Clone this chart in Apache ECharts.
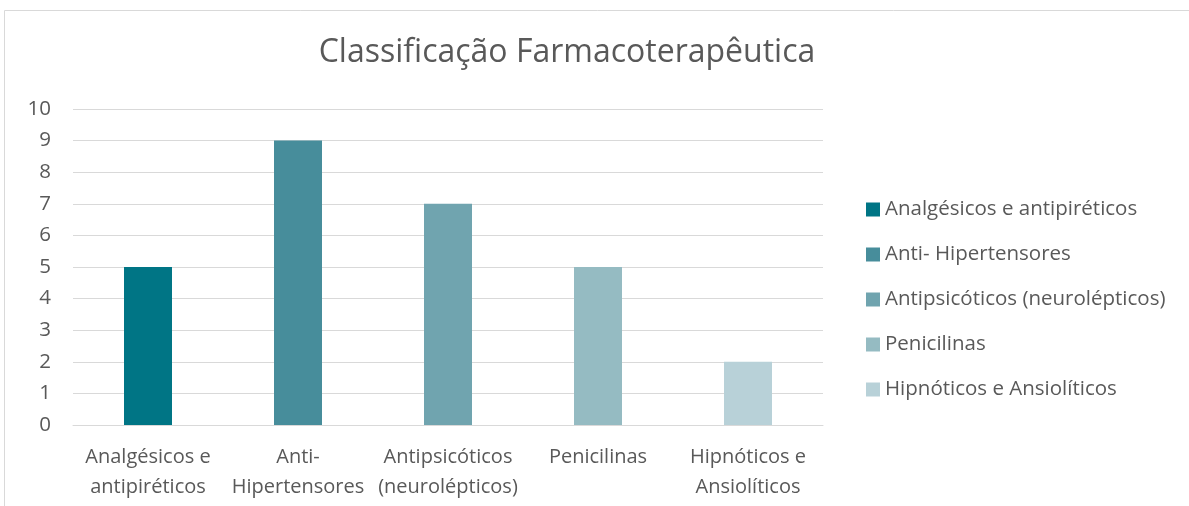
<!DOCTYPE html>
<html>
<head>
<meta charset="utf-8">
<script src="https://cdn.jsdelivr.net/npm/echarts@6/dist/echarts.min.js"></script>
<style>
  html, body { margin: 0; padding: 0; background: #fff; }
  #chart { width: 1189px; height: 506px; }
</style>
</head>
<body>
<div id="chart"></div>
<script>
const categories = [
  "Analgésicos e antipiréticos",
  "Anti- Hipertensores",
  "Antipsicóticos (neurolépticos)",
  "Penicilinas",
  "Hipnóticos e Ansiolíticos",
];
const axisLabels = [
  "Analgésicos e\nantipiréticos",
  "Anti-\nHipertensores",
  "Antipsicóticos\n(neurolépticos)",
  "Penicilinas",
  "Hipnóticos e\nAnsiolíticos",
];
const values = [5, 9, 7, 5, 2];
const colors = ["#007585", "#478D9B", "#70A4AF", "#95BBC2", "#B8D1D8"];

let chartDom = document.getElementById("chart");
let myChart = echarts.init(chartDom);
let option;

const font = "'Open Sans', sans-serif";

option = {
  animation: false,
  title: {
    text: "Classificação Farmacoterapêutica",
    left: 562,
    textAlign: "center",
    top: 32,
    textStyle: {
      fontFamily: font,
      fontSize: 32,
      fontWeight: "normal",
      color: "#595959",
    },
  },
  graphic: [
    {
      type: "rect",
      shape: { x: 4.5, y: 10.5, width: 1300, height: 700 },
      style: { fill: "none", stroke: "#d9d9d9", lineWidth: 1 },
      silent: true,
    },
  ],
  legend: {
    orient: "vertical",
    left: 861,
    top: 194,
    itemWidth: 14,
    itemHeight: 14,
    itemGap: 24,
    icon: "rect",
    textStyle: {
      fontFamily: font,
      fontSize: 20.5,
      lineHeight: 20,
      color: "#595959",
    },
    data: categories,
  },
  grid: {
    left: 73,
    right: 366,
    top: 109,
    bottom: 81,
  },
  xAxis: {
    type: "category",
    data: axisLabels,
    axisTick: { show: false },
    axisLine: { lineStyle: { color: "#d9d9d9" } },
    axisLabel: {
      fontFamily: font,
      fontSize: 20,
      color: "#595959",
      margin: 17,
      lineHeight: 30,
      interval: 0,
    },
  },
  yAxis: {
    type: "value",
    min: 0,
    max: 10,
    interval: 1,
    axisLabel: {
      fontFamily: font,
      fontSize: 20.5,
      color: "#595959",
      margin: 22,
    },
    splitLine: { lineStyle: { color: "#d9d9d9" } },
  },
  series: [],
};

categories.forEach((name, i) => {
  option.series.push({
    name: name,
    type: "bar",
    barWidth: 48,
    barGap: "-100%",
    itemStyle: { color: colors[i] },
    data: values.map((v, j) => (j === i ? v : "-")),
  });
});

option && myChart.setOption(option);
</script>
</body>
</html>
